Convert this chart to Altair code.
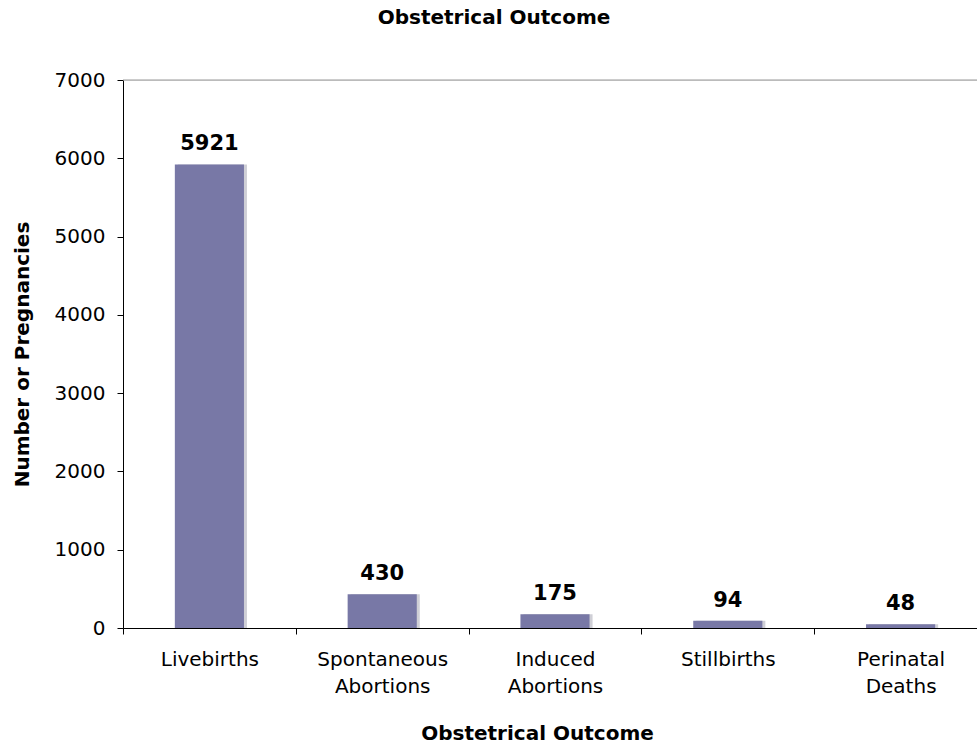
import altair as alt
import pandas as pd

categories = ["Livebirths", "Spontaneous Abortions", "Induced Abortions", "Stillbirths", "Perinatal Deaths"]
values = [5921, 430, 175, 94, 48]

df = pd.DataFrame({"outcome": categories, "count": values})

FONT = "DejaVu Sans"
BAR = "#7878a6"

x_enc = alt.X(
    "outcome:N",
    sort=categories,
    scale=alt.Scale(range=[0, 864], paddingInner=0, paddingOuter=0),
    axis=alt.Axis(
        title="Obstetrical Outcome",
        labelAngle=0,
        labelExpr="split(datum.label, ' ')",
        labelLineHeight=27,
        labelFontSize=20,
        labelFont=FONT,
        labelColor="#000000",
        labelPadding=15,
        labelBaseline="top",
        tickBand="extent",
        tickSize=6,
        tickColor="#000000",
        domainColor="#000000",
        titleFont=FONT,
        titleFontSize=20,
        titleFontWeight="bold",
        titleX=414,
        titleY=105,
        titleBaseline="middle",
        titleAlign="center",
    ),
)

y_enc = alt.Y(
    "count:Q",
    scale=alt.Scale(domain=[0, 7000]),
    axis=alt.Axis(
        title="Number or Pregnancies",
        values=[0, 1000, 2000, 3000, 4000, 5000, 6000, 7000],
        format="d",
        grid=False,
        labelFontSize=20,
        labelFont=FONT,
        labelColor="#000000",
        labelPadding=12,
        tickSize=6,
        tickColor="#000000",
        domainColor="#000000",
        titleFont=FONT,
        titleFontSize=20,
        titleFontWeight="bold",
        titleX=-101,
        titleY=274,
        titleAngle=-90,
        titleBaseline="middle",
        titleAlign="center",
    ),
)

base = alt.Chart(df)

shadow = base.mark_bar(color="#cfcfd6", width={"band": 0.4}, xOffset=3).encode(
    x=x_enc, y=y_enc
)
bars = base.mark_bar(color=BAR, width={"band": 0.4}).encode(x=x_enc, y=y_enc)
labels = base.mark_text(
    baseline="bottom", dy=-10, fontSize=21, fontWeight="bold", font=FONT, color="#000000"
).encode(x=x_enc, y=y_enc, text="count:Q")
top_line = alt.Chart(pd.DataFrame({"v": [7000]})).mark_rule(color="#999999", strokeWidth=1).encode(
    y=alt.Y("v:Q")
)

chart = (
    alt.layer(top_line, shadow, bars, labels)
    .properties(
        width=854,
        height=548,
        autosize=alt.AutoSizeParams(type="none"),
        padding={"left": 123, "top": 80, "right": 0, "bottom": 118},
        title=alt.TitleParams(
            "Obstetrical Outcome",
            font=FONT,
            fontSize=20,
            fontWeight="bold",
            color="#000000",
            anchor="middle",
            dx=-56,
            offset=42,
        ),
    )
    .configure_view(stroke=None)
    .configure(background="white")
)

chart.save("out.html", embed_options={"renderer": "svg", "actions": False})
